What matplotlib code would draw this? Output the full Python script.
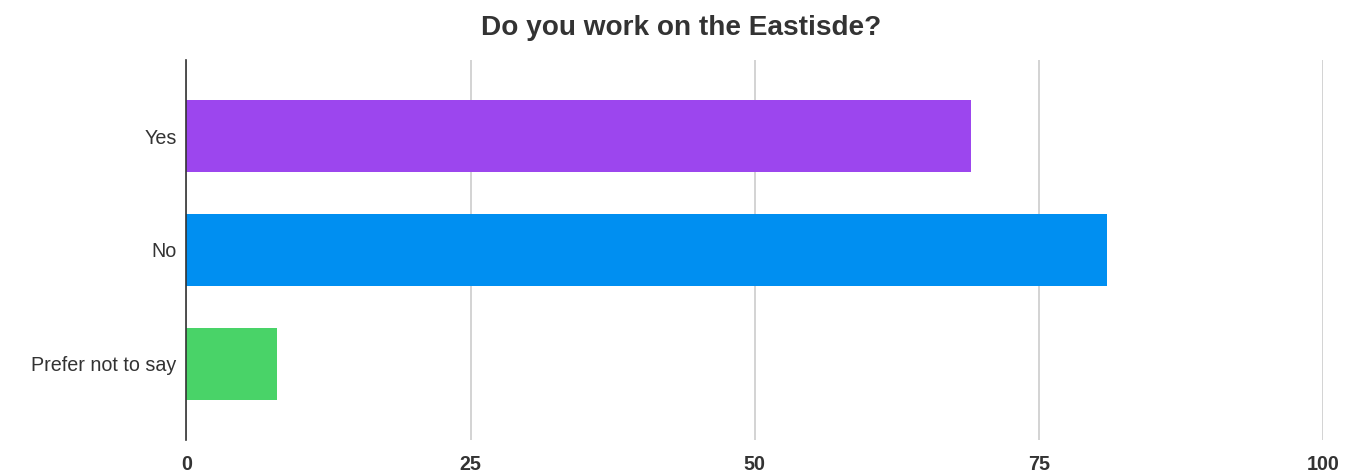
import matplotlib
matplotlib.use("Agg")
import matplotlib.pyplot as plt

categories = ["Yes", "No", "Prefer not to say"]
counts = [69, 81, 8]
colors = ["#9C46EE", "#008FF1", "#49D368"]
ticks = [0, 25, 50, 75, 100]

plt.rcParams["font.family"] = ["Liberation Sans", "DejaVu Sans"]

fig = plt.figure(figsize=(13.62, 4.72), dpi=100)
ax = fig.add_axes([0.1369, 0.0678, 0.8345, 0.8051])

ypos = list(range(len(categories)))
bar_h = 0.63
for y, v, c in zip(ypos, counts, colors):
    ax.barh(y, v, height=bar_h, color=c, edgecolor="none", zorder=3)

ax.set_xlim(0, 100)
ax.set_ylim(len(categories) - 1 + 0.667, -0.667)
ax.set_xticks(ticks)
ax.set_xticklabels([str(t) for t in ticks], fontsize=14.2, fontweight="bold", color="#333333")
ax.set_yticks(ypos)
ax.set_yticklabels(categories, fontsize=14.2, color="#333333")
ax.tick_params(axis="both", length=0)
ax.tick_params(axis="x", pad=10.5)
ax.tick_params(axis="y", pad=7)

ax.grid(axis="x", color="#cccccc", linewidth=1.2, zorder=0)
for s in ["top", "right", "bottom"]:
    ax.spines[s].set_visible(False)
ax.spines["left"].set_color("#333333")
ax.spines["left"].set_linewidth(1.2)
ax.spines["left"].set_zorder(4)

fig.text(0.5, 0.94, "Do you work on the Eastisde?", ha="center", va="center",
         fontsize=20.2, fontweight="bold", color="#333333")

fig.savefig("out.png", dpi=100, facecolor="white")
